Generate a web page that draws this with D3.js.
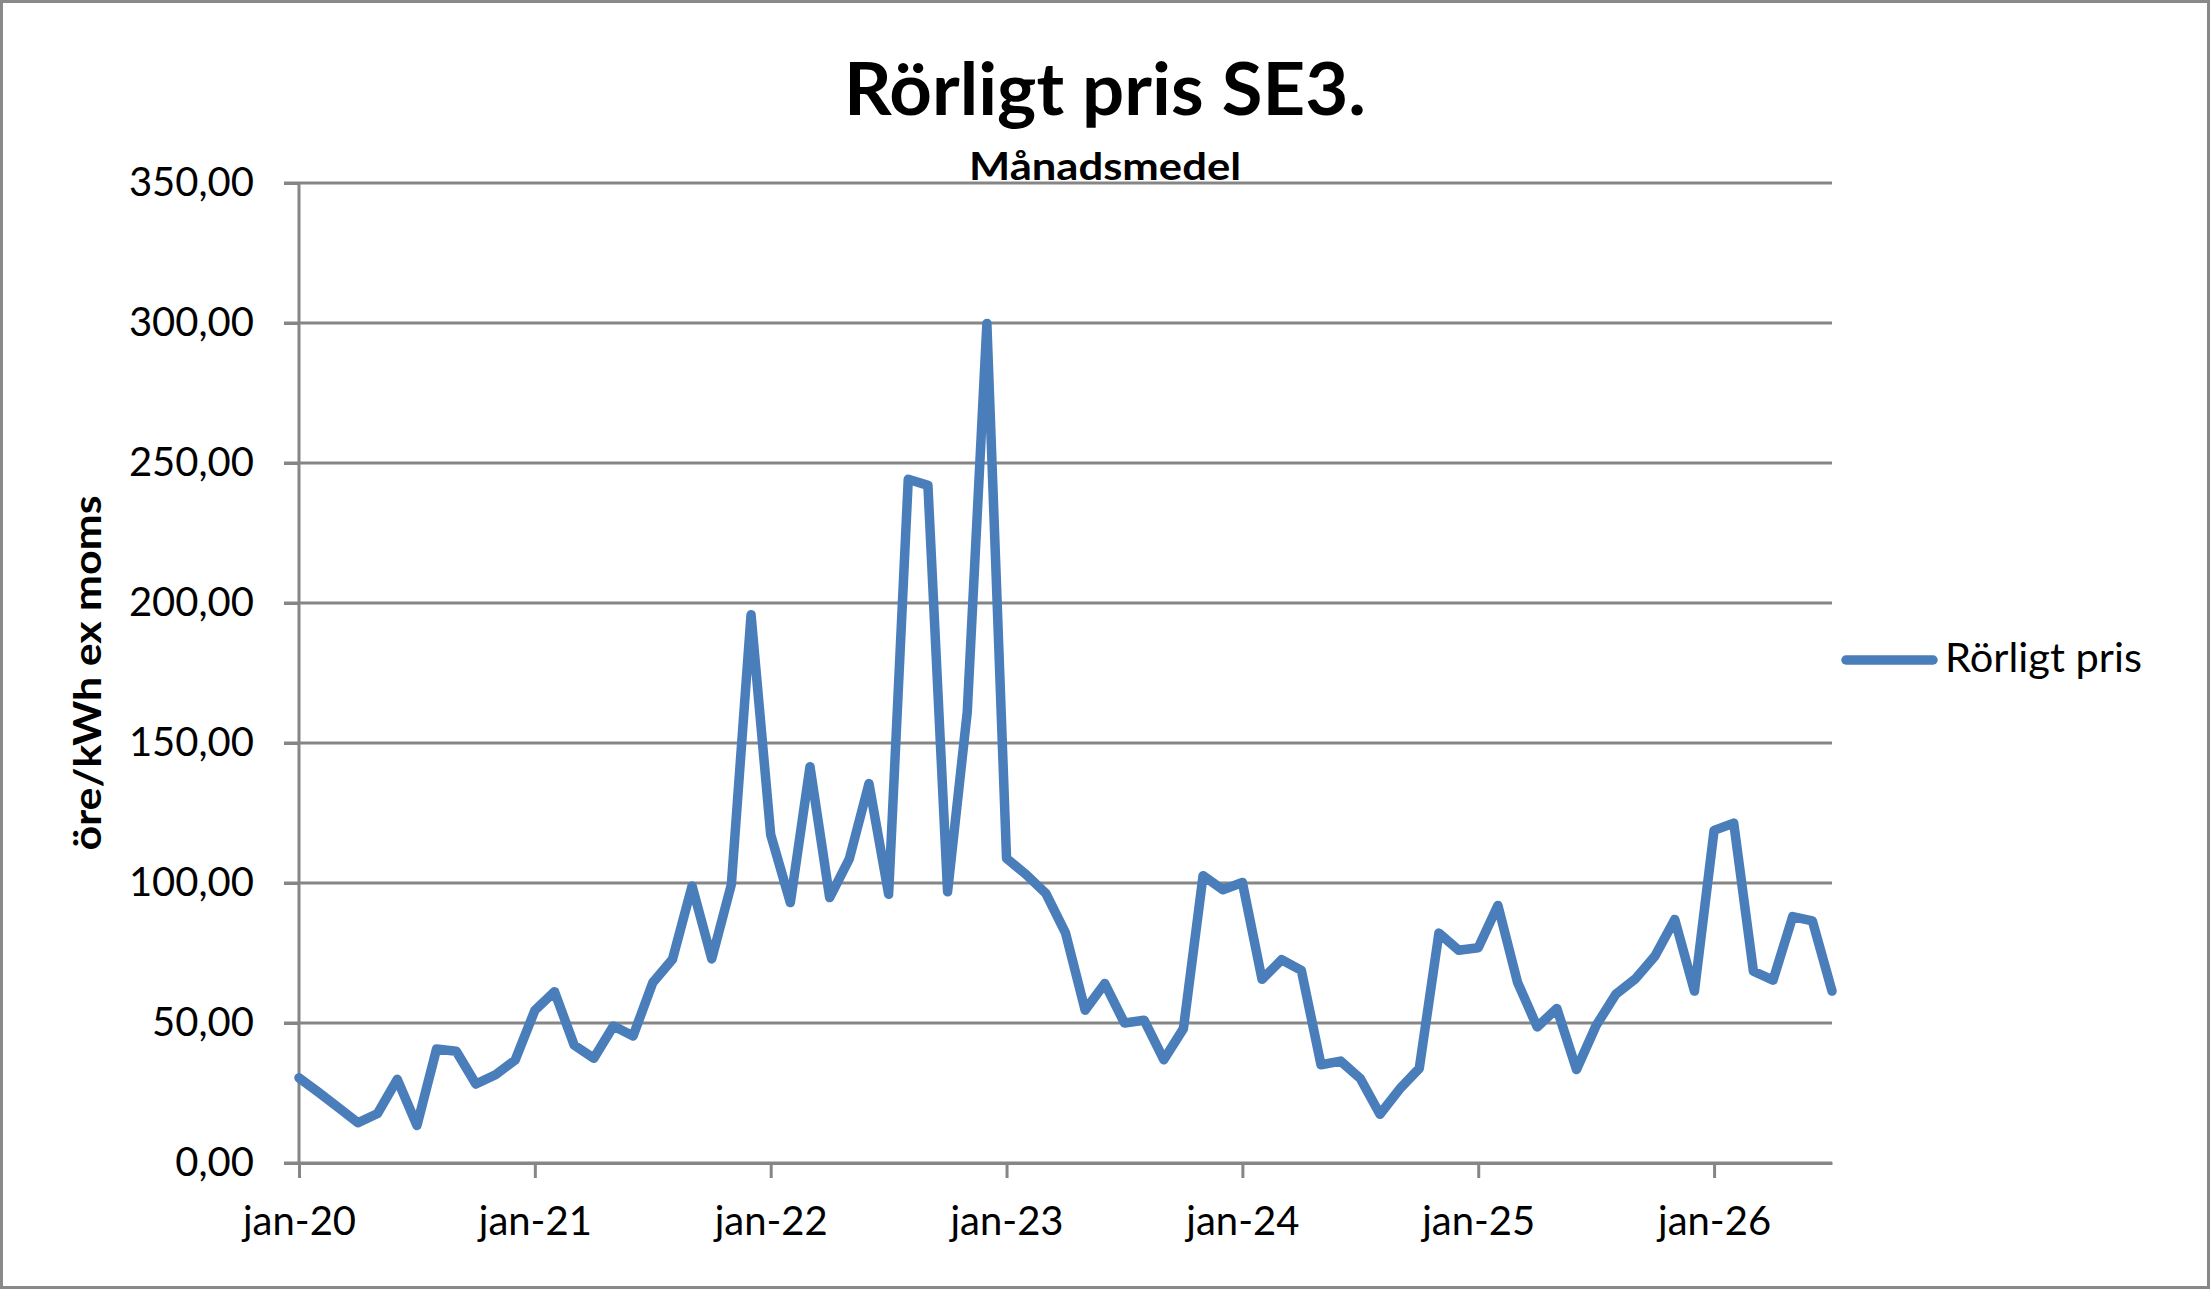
<!DOCTYPE html>
<html>
    <head>
        <title>Rörligt pris SE3</title>
        <script src="https://d3js.org/d3.v7.min.js"></script>
        <style>
            body { margin: 0; background: white; }
            text { font-family: "Lato", "Open Sans", sans-serif; fill: black; }
        </style>
    </head>
    <body>
        <svg id="chart" width="2210" height="1289"></svg>

        <script>
            // Data: monthly average price, ore/kWh ex moms, jan-20 .. jul-26
            var monthNames = ["jan", "feb", "mar", "apr", "maj", "jun", "jul", "aug", "sep", "okt", "nov", "dec"];
            var years = ["20", "21", "22", "23", "24", "25", "26"];
            var prices = [
                30.4, 25.2, 19.8, 14.4, 17.7, 29.9, 13.4, 40.7, 39.9, 28.2, 31.5, 36.8,
                54.5, 61.2, 42.1, 37.4, 48.9, 45.4, 64.4, 72.7, 98.9, 72.9, 99.5, 195.8,
                117.3, 93.0, 141.5, 94.8, 108.6, 135.5, 96.0, 244.2, 242.0, 96.9, 161.0, 299.8,
                108.8, 103.0, 96.3, 82.2, 54.6, 64.1, 50.0, 51.0, 36.9, 48.0, 102.6, 97.6,
                100.2, 65.6, 72.6, 68.8, 35.1, 36.4, 30.2, 17.4, 26.4, 33.8, 82.1, 76.0,
                76.9, 92.0, 64.5, 48.6, 55.2, 33.4, 49.1, 60.3, 65.8, 74.0, 87.0, 61.4,
                118.8, 121.4, 68.5, 65.3, 88.0, 86.5, 61.4
            ];
            var xTickLabels = ["jan-20", "jan-21", "jan-22", "jan-23", "jan-24", "jan-25", "jan-26"];
            var yTicks = [0, 50, 100, 150, 200, 250, 300, 350];

            // month labels for each point
            var months = [];
            years.forEach(function(y) {
                monthNames.forEach(function(m) { months.push(m + "-" + y); });
            });
            months = months.slice(0, prices.length);

            var data = prices.map(function(v, i) {
                return { month: months[i], value: v };
            });

            var lineColor = "#4a7ebb";
            var gridColor = "#868686";

            var svg = d3.select("#chart");

            // outer border
            svg.append("rect")
                .attr("x", 1.5).attr("y", 1.5)
                .attr("width", 2207).attr("height", 1286)
                .attr("fill", "white")
                .attr("stroke", "#898989")
                .attr("stroke-width", 3);

            var plotLeft = 299, plotRight = 1832, plotTop = 183, plotBottom = 1163;

            var x = d3.scalePoint()
                .domain(months)
                .range([plotLeft, plotRight]);

            var y = d3.scaleLinear()
                .domain([0, 350])
                .range([plotBottom, plotTop]);

            // gridlines
            svg.append("g")
                .selectAll("line")
                .data(yTicks)
                .enter().append("line")
                .attr("x1", plotLeft - 15)
                .attr("x2", plotRight)
                .attr("y1", function(d) { return y(d); })
                .attr("y2", function(d) { return y(d); })
                .attr("stroke", gridColor)
                .attr("stroke-width", 3);

            // y axis
            var yAxis = svg.append("g")
                .attr("transform", "translate(" + plotLeft + ",0)")
                .call(d3.axisLeft(y)
                    .tickValues(yTicks)
                    .tickSize(15)
                    .tickPadding(30)
                    .tickFormat(function(d) { return d.toFixed(2).replace(".", ","); }));

            // x axis
            var xAxis = svg.append("g")
                .attr("transform", "translate(0," + plotBottom + ")")
                .call(d3.axisBottom(x)
                    .tickValues(xTickLabels)
                    .tickSize(15)
                    .tickPadding(29)
                    .tickSizeOuter(0));

            [yAxis, xAxis].forEach(function(ax) {
                ax.selectAll("path, line")
                    .attr("stroke", gridColor)
                    .attr("stroke-width", 3);
                ax.selectAll("text")
                    .style("font-size", "40px")
                    .attr("fill", "black");
            });
            yAxis.select(".domain").attr("d", "M0," + plotTop + "V" + plotBottom);

            // the price line
            var line = d3.line()
                .x(function(d) { return x(d.month); })
                .y(function(d) { return y(d.value); });

            svg.append("path")
                .datum(data)
                .attr("d", line)
                .attr("fill", "none")
                .attr("stroke", lineColor)
                .attr("stroke-width", 9.5)
                .attr("stroke-linejoin", "round")
                .attr("stroke-linecap", "round");

            // title + subtitle
            svg.append("text")
                .attr("x", 1105).attr("y", 115)
                .attr("text-anchor", "middle")
                .attr("textLength", 522)
                .attr("lengthAdjust", "spacingAndGlyphs")
                .style("font-size", "72px")
                .style("font-weight", "bold")
                .text("Rörligt pris SE3.");

            svg.append("text")
                .attr("x", 1105).attr("y", 180)
                .attr("text-anchor", "middle")
                .attr("textLength", 272)
                .attr("lengthAdjust", "spacingAndGlyphs")
                .style("font-size", "38px")
                .style("font-weight", "bold")
                .text("Månadsmedel");

            // y axis title
            svg.append("text")
                .attr("transform", "translate(101,673) rotate(-90)")
                .attr("text-anchor", "middle")
                .attr("textLength", 355)
                .attr("lengthAdjust", "spacingAndGlyphs")
                .style("font-size", "38px")
                .style("font-weight", "bold")
                .text("öre/kWh ex moms");

            // legend
            svg.append("line")
                .attr("x1", 1846).attr("x2", 1933)
                .attr("y1", 660).attr("y2", 660)
                .attr("stroke", lineColor)
                .attr("stroke-width", 9.5)
                .attr("stroke-linecap", "round");

            svg.append("text")
                .attr("x", 1945).attr("y", 672)
                .attr("textLength", 197)
                .attr("lengthAdjust", "spacingAndGlyphs")
                .style("font-size", "40px")
                .text("Rörligt pris");
        </script>
    </body>
</html>
